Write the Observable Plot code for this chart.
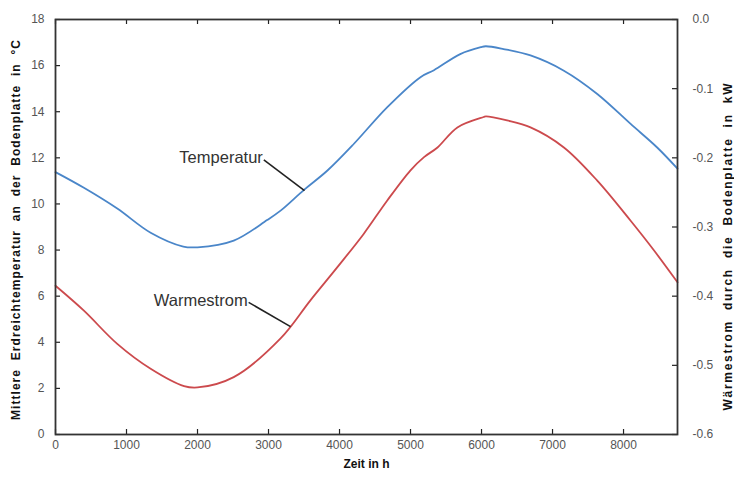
<!DOCTYPE html>
<html><head><meta charset="utf-8">
<script src="https://cdn.jsdelivr.net/npm/d3@7"></script>
<script src="https://cdn.jsdelivr.net/npm/@observablehq/plot@0.6"></script>
<style>body{margin:0;background:#fff;font-family:"Liberation Sans",Arial,sans-serif}</style>
</head><body><div id="chart"></div>
<script>
// Temperatur (left axis, °C)
const tempHours = [0,400,870,1340,1800,2000,2510,2980,3170,3500,3830,4200,4670,5140,5330,5700,5990,6060,6310,6690,7160,7630,8100,8470,8760];
const temperatur = [11.38,10.7,9.8,8.75,8.15,8.12,8.41,9.3,9.71,10.61,11.45,12.6,14.19,15.5,15.8,16.5,16.8,16.84,16.72,16.44,15.78,14.77,13.47,12.46,11.53];
// Wärmestrom (right axis, kW)
const flowHours = [0,400,870,1340,1810,2000,2510,3170,3590,3970,4340,4670,5000,5190,5380,5660,6030,6060,6360,6690,7160,7630,8100,8430,8760];
const waermestrom = [-0.385,-0.421,-0.469,-0.505,-0.530,-0.532,-0.517,-0.461,-0.406,-0.358,-0.310,-0.262,-0.218,-0.199,-0.185,-0.156,-0.141,-0.140,-0.146,-0.156,-0.185,-0.233,-0.291,-0.334,-0.380];
const xTicks = [0,1000,2000,3000,4000,5000,6000,7000,8000];
const leftTicks = [0,2,4,6,8,10,12,14,16,18];
const rightTicks = [0,-0.1,-0.2,-0.3,-0.4,-0.5,-0.6];
const annoLabels = ["Temperatur","Warmestrom"];
const annoStartX = [2934,2720];
const annoStartY = [11.91,-0.409];
const annoEndX = [3507,3310];
const annoEndY = [10.58,-0.444];
const annoAxis = ["left","right"];
const xTitle = "Zeit in h";
const leftTitle = "Mittlere  Erdreichtemperatur  an  der  Bodenplatte  in  °C";
const rightTitle = "Wärmestrom  durch  die  Bodenplatte  in  kW";

const W = 734, H = 478;
const mL = 55, mR = 57, mT = 19, mB = 44;
const pw = W - mL - mR, ph = H - mT - mB;
const toLeft = v => (v + 0.6) * 30; // kW -> left scale units
const ann = annoLabels.map((t,i)=>{
  const f = annoAxis[i]==="right" ? toLeft : (v=>v);
  return {t, x1: annoStartX[i], y1: f(annoStartY[i]), x2: annoEndX[i], y2: f(annoEndY[i])};
});
const tempData = tempHours.map((h,i)=>({h, v: temperatur[i]}));
const flowData = flowHours.map((h,i)=>({h, v: toLeft(waermestrom[i])}));

const chart = Plot.plot({
  width: W, height: H,
  marginLeft: mL, marginRight: mR, marginTop: mT, marginBottom: mB,
  style: {fontFamily: '"Liberation Sans", Arial, sans-serif', background: "#fff"},
  x: {domain: [0, 8760]},
  y: {domain: [0, 18]},
  marks: [
    Plot.line(tempData, {x: "h", y: "v", stroke: "#4a86c9", strokeWidth: 1.8, curve: "catmull-rom"}),
    Plot.line(flowData, {x: "h", y: "v", stroke: "#cc4a4d", strokeWidth: 1.8, curve: "catmull-rom"}),
    Plot.link(ann, {x1: "x1", y1: "y1", x2: "x2", y2: "y2", stroke: "#222", strokeWidth: 1.6}),
    Plot.text(ann, {x: "x1", y: "y1", text: "t", textAnchor: "end", dx: -1, dy: -2, fontSize: 16.5, fill: "#333"}),
    // inward ticks
    Plot.tickY(leftTicks, {y: d=>d, insetRight: pw - 5, stroke: "#222", strokeWidth: 1.2}),
    Plot.tickY(rightTicks.map(toLeft), {y: d=>d, insetLeft: pw - 5, stroke: "#222", strokeWidth: 1.2}),
    Plot.tickX(xTicks, {x: d=>d, insetTop: ph - 5, stroke: "#222", strokeWidth: 1.2}),
    Plot.tickX(xTicks, {x: d=>d, insetBottom: ph - 5, stroke: "#222", strokeWidth: 1.2}),
    Plot.frame({stroke: "#333", strokeWidth: 1.8}),
    Plot.axisX(xTicks, {anchor: "bottom", tickSize: 0, tickPadding: 6, fontSize: 12, fill: "#555", label: null, tickFormat: d => String(d)}),
    Plot.axisY(leftTicks, {anchor: "left", tickSize: 0, tickPadding: 11, fontSize: 12, fill: "#555", label: null}),
    Plot.axisY(rightTicks.map(toLeft), {anchor: "right", tickSize: 0, tickPadding: 15, fontSize: 12, fill: "#555", label: null,
      tickFormat: d => (Math.round((d/30 - 0.6)*10)/10).toFixed(1).replace("-0.0","0.0")}),
    Plot.text([xTitle], {frameAnchor: "bottom", textAnchor: "middle", dy: 33, fontWeight: "bold", fontSize: 12, fill: "#111"}),
    Plot.text([leftTitle], {frameAnchor: "left", textAnchor: "middle", dx: -39, dy: 3, rotate: -90, fontWeight: "bold", fontSize: 12, fill: "#111"}),
    Plot.text([rightTitle], {frameAnchor: "right", textAnchor: "middle", dx: 51, dy: 20, rotate: -90, fontWeight: "bold", fontSize: 12, fill: "#111"})
  ]
});
// stretch the rotated axis titles to the reference lengths
d3.select(chart).selectAll("text").each(function() {
  const t = this.textContent;
  if (t === leftTitle) { this.setAttribute("textLength", 380); this.setAttribute("lengthAdjust", "spacing"); }
  if (t === rightTitle) { this.setAttribute("textLength", 327); this.setAttribute("lengthAdjust", "spacing"); }
});
document.getElementById("chart").appendChild(chart);
</script>
</body></html>
